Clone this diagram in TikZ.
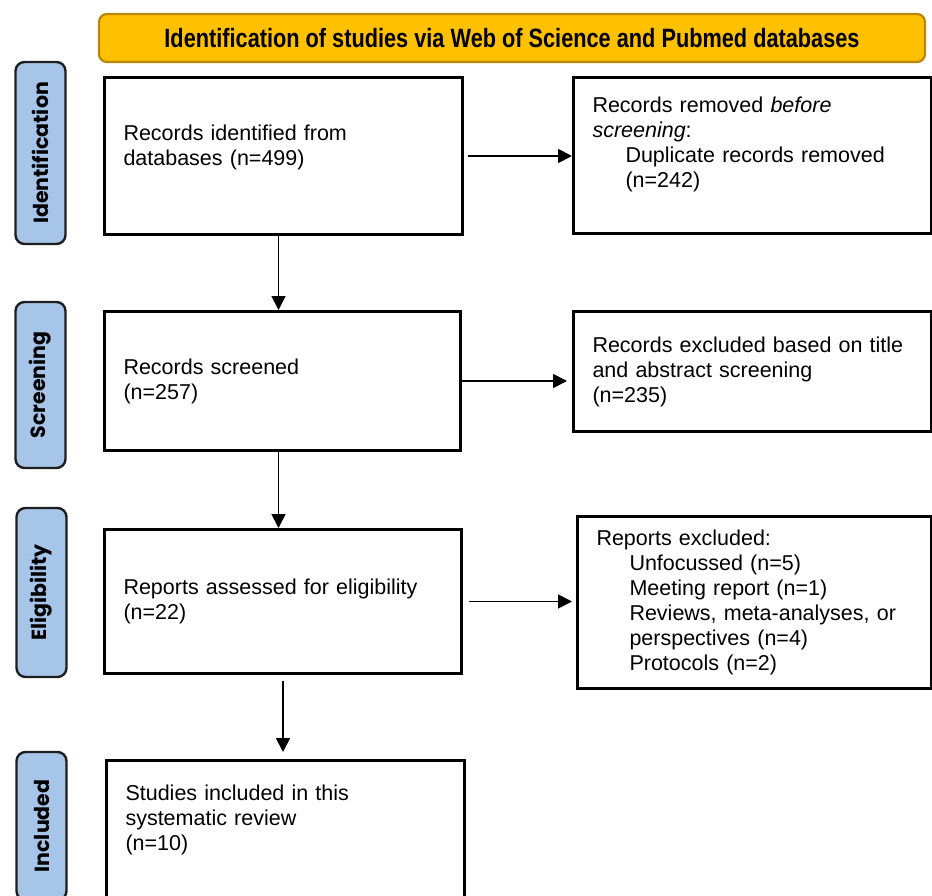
\documentclass[tikz,border=0pt]{standalone}
\usepackage{fontspec}
\setmainfont{Liberation Sans}
\newfontfamily\tabfont{Poppins}
\newfontfamily\headfont[FakeStretch=0.82]{Liberation Sans}
\usetikzlibrary{arrows.meta}
\definecolor{headfill}{HTML}{FFC000}
\definecolor{headline}{HTML}{B8860B}
\definecolor{tabfill}{HTML}{A7C4E9}
\definecolor{tabline}{HTML}{1E1E1E}
\begin{document}
\begin{tikzpicture}[x=1pt,y=-1pt,
  box/.style={draw,line width=3pt,anchor=north west,align=left,inner xsep=19pt,
    font=\fontsize{21.5}{25}\selectfont},
  tab/.style={draw=tabline,fill=tabfill,line width=2.4pt,rounded corners=9pt,rotate=90,
    minimum height=50pt,inner sep=0pt,font=\tabfont\bfseries\fontsize{20.5}{22}\selectfont},
  arr/.style={line width=1.8pt,-{Triangle[length=14pt,width=14pt]}}]
  \useasboundingbox (0,0) rectangle (932,896);
  % header
  \node [draw=headline,fill=headfill,line width=2.2pt,rounded corners=8pt,minimum width=826pt,
    minimum height=48pt,font=\headfont\bfseries\fontsize{26.5}{28}\selectfont] (head) at (512,38)
    {Identification of studies via Web of Science and Pubmed databases};
  % phase tabs
  \node [tab,minimum width=182pt] (tabid) at (40.5,153) {Identification};
  \node [tab,minimum width=166pt] (tabsc) at (40.5,385) {Screening};
  \node [tab,minimum width=169pt] (tabel) at (41.5,592.5) {Eligibility};
  \node [tab,minimum width=148pt] (tabin) at (41.5,826) {Included};
  % main column
  \node [box,minimum height=157pt,text width=320pt,text depth=47.5pt] (rec) at (103,76)
    {Records identified from\\databases (n=499)};
  \node [box,minimum height=139pt,text width=318pt] (scr) at (103,310)
    {Records screened\\(n=257)};
  \node [box,minimum height=144pt,text width=319pt] (elig) at (103,528)
    {Reports assessed for eligibility\\(n=22)};
  \node [box,minimum height=145pt,text width=320pt,text depth=80.5pt] (incl) at (105,759)
    {Studies included in this\\systematic review\\(n=10)};
  % side column
  \node [box,minimum height=156pt,text width=320pt,text depth=101.5pt] (dup) at (572,76)
    {Records removed \textit{before}\\\textit{screening}:\\
     \hspace*{33pt}Duplicate records removed\\\hspace*{33pt}(n=242)};
  \node [box,minimum height=120pt,text width=320pt] (excla) at (572,310)
    {Records excluded based on title\\and abstract screening\\(n=235)};
  \node [box,minimum height=172pt,text width=316pt] (exclb) at (576,515)
    {Reports excluded:\\\hspace*{33pt}Unfocussed (n=5)\\\hspace*{33pt}Meeting report (n=1)\\
     \hspace*{33pt}Reviews, meta-analyses, or\\\hspace*{33pt}perspectives (n=4)\\
     \hspace*{33pt}Protocols (n=2)};
  % arrows
  \draw [arr] ([xshift=4pt]rec.east) -- (rec.east -| dup.west);
  \draw [arr] (scr.east) -- ([xshift=-5pt]scr.east -| excla.west);
  \draw [arr] ([xshift=6pt]elig.east) -- ([xshift=-4pt]elig.east -| exclb.west);
  \draw [arr] ([xshift=-5pt]rec.south) -- ([xshift=-5pt]rec.south |- scr.north);
  \draw [arr] ([xshift=-4pt]scr.south) -- ([xshift=-4pt]scr.south |- elig.north);
  \draw [arr] ([yshift=-6pt]elig.south) -- ([yshift=7pt]elig.south |- incl.north);
\end{tikzpicture}
\end{document}
